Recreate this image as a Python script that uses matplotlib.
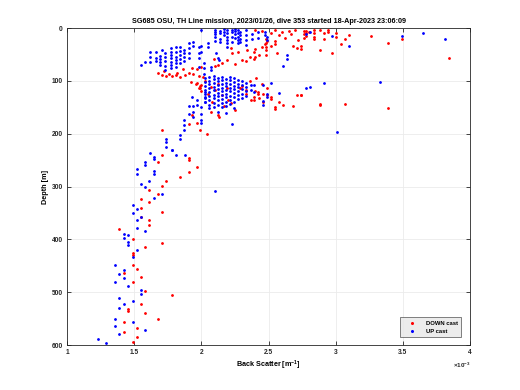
import numpy as np
import matplotlib
matplotlib.use("Agg")
import matplotlib.pyplot as plt
from matplotlib.ticker import FuncFormatter

title = "SG685 OSU, TH Line mission, 2023/01/26, dive 353 started 18-Apr-2023 23:06:09"

# DOWN cast, back scatter in units of 1e-3 m^-1, depth in m
down_bs = [
    # top
    2.78, 2.78, 2.78, 2.80, 2.84, 2.84, 2.84, 2.84, 2.88, 2.91, 2.91, 2.94, 2.94, 3.00, 3.00,
    3.04, 3.07, 3.10, 3.26, 3.39, 3.49, 3.84, 2.76, 2.76, 2.76, 2.70, 2.65, 2.60, 2.55, 2.52,
    2.58, 2.62, 2.67, 2.72, 2.45, 2.40,
    # 20-100 m
    2.12, 2.15, 2.19, 2.23, 2.27, 2.22, 2.34, 2.36, 2.39, 2.40, 2.45, 2.47, 2.49, 2.52, 2.40,
    2.39, 2.43, 2.48, 2.48, 2.48, 2.48, 2.48, 2.55, 2.55, 2.56, 2.68, 2.71, 2.74, 2.74, 2.88,
    2.97, 2.30, 2.33, 2.25, 2.09, 2.10,
    1.71, 1.74, 1.78, 1.82, 1.86, 1.88, 1.91, 1.93, 1.97, 1.98, 1.97, 1.98, 2.00, 2.03,
    1.72, 1.76, 1.81, 1.84, 1.68, 1.94, 2.00, 2.01, 1.99, 2.00,
    # 100-200 m
    2.07, 2.10, 2.15, 2.19, 2.20, 2.22, 2.12, 2.05, 2.08, 2.17, 2.25, 2.30, 2.33, 2.36, 2.41,
    2.45, 2.39, 2.39, 2.42, 2.42, 2.46, 2.46, 2.49, 2.49, 2.52, 2.52, 2.55, 2.55, 2.58, 2.61,
    2.68, 2.71, 2.74, 2.88, 3.07, 2.74, 2.88, 3.39, 2.29, 2.33, 2.37, 2.40, 2.43,
    1.92, 1.96, 1.99, 2.07, 2.12, 2.13, 1.97, 1.93, 1.99, 1.71, 1.91, 2.04,
    # deep
    1.71, 1.68, 1.91, 1.91, 1.97, 1.91, 1.74, 1.84, 1.71, 1.61, 1.68, 1.55, 1.55, 1.61, 1.71,
    1.55, 1.61, 1.61, 1.39, 1.49, 1.71, 1.58, 1.49, 1.49, 1.49, 1.52, 1.42, 1.55, 1.49, 1.58,
    1.78, 1.55, 1.45, 1.45, 1.58, 1.68, 1.42, 1.52, 1.42, 1.52, 1.49,
]
down_depth = [
    5, 10, 15, 8, 4, 10, 16, 21, 4, 10, 20, 4, 7, 10, 16,
    30, 20, 13, 15, 29, 20, 56, 6, 12, 18, 3, 5, 8, 4, 10,
    14, 18, 12, 22, 6, 3,
    70, 67, 60, 48, 45, 38, 41, 54, 46, 54, 36, 30, 25, 34, 40,
    58, 50, 21, 28, 35, 42, 50, 25, 31, 47, 34, 37, 34, 40, 42,
    47, 60, 62, 68, 59, 72,
    88, 91, 91, 85, 78, 88, 85, 75, 78, 91, 104, 113, 107, 100,
    82, 86, 89, 92, 85, 86, 73, 92, 114, 120,
    111, 118, 127, 113, 136, 142, 106, 125, 140, 148, 155, 110, 118, 100, 95,
    105, 130, 136, 121, 125, 124, 140, 114, 127, 130, 135, 149, 154, 140, 146,
    148, 127, 127, 144, 144, 127, 145, 151, 114, 125, 136, 120, 133,
    102, 105, 110, 158, 165, 168, 180, 164, 192, 192, 181, 201,
    240, 254, 245, 250, 263, 272, 290, 282, 298, 306, 314, 324, 340, 330, 348,
    358, 364, 372, 381, 399, 407, 415, 430, 426, 448, 456, 464, 471, 480, 497,
    505, 522, 531, 535, 540, 550, 557, 567, 576, 585, 594,
]

# UP cast
up_bs = [
    # top
    2.10, 2.10, 2.10, 2.10, 2.10, 2.14, 2.14, 2.14, 2.14, 2.17, 2.17, 2.17,
    2.19, 2.19, 2.19, 2.19, 2.19, 2.19, 2.23, 2.23, 2.23, 2.23, 2.25, 2.25, 2.25, 2.25,
    2.27, 2.27, 2.27, 2.27, 2.27, 2.29, 2.29, 2.29, 2.29, 2.33, 2.33, 2.33, 2.33,
    2.38, 2.38, 2.42, 2.42, 2.47, 2.47, 2.49, 2.49, 2.64, 2.64, 2.61, 2.00,
    2.78, 2.81, 2.97, 3.10, 3.49, 3.65, 3.81, 2.11, 2.12, 2.13,
    # wedge 25-110 m
    1.55, 1.58, 1.62, 1.66, 1.62, 1.62, 1.66, 1.66, 1.69, 1.69, 1.69, 1.69, 1.71,
    1.73, 1.73, 1.73, 1.73, 1.73, 1.77, 1.77, 1.77, 1.77, 1.77, 1.77, 1.77,
    1.81, 1.81, 1.81, 1.81, 1.81, 1.81, 1.84, 1.84, 1.84, 1.84, 1.84,
    1.87, 1.87, 1.87, 1.87, 1.91, 1.91, 1.91, 1.91, 1.94, 1.94, 1.98, 1.98, 1.98, 1.98,
    2.00, 2.00, 2.02, 2.02, 2.02, 2.05, 2.05, 2.07, 2.07,
    # middle cluster 90-160 m
    2.03, 2.03, 2.03, 2.03, 2.03, 2.03, 2.03,
    2.06, 2.06, 2.06, 2.06, 2.06, 2.06, 2.06, 2.06, 2.06,
    2.09, 2.09, 2.09, 2.09, 2.09, 2.09, 2.09, 2.09, 2.09,
    2.12, 2.12, 2.12, 2.12, 2.12, 2.12, 2.12, 2.12, 2.12,
    2.15, 2.15, 2.15, 2.15, 2.15, 2.15, 2.15, 2.15, 2.15,
    2.18, 2.18, 2.18, 2.18, 2.18, 2.18, 2.18, 2.18, 2.18,
    2.21, 2.21, 2.21, 2.21, 2.21, 2.21, 2.21, 2.21,
    2.24, 2.24, 2.24, 2.24, 2.24, 2.24, 2.24, 2.24,
    2.27, 2.27, 2.27, 2.27, 2.27, 2.27, 2.30, 2.30, 2.30, 2.30, 2.30,
    2.33, 2.33, 2.33, 2.33, 2.37, 2.37, 2.39, 2.39, 2.46, 2.46, 2.46, 2.49, 2.49,
    2.58, 2.52, 2.78, 2.81, 2.91, 3.33, 3.01,
    # transition 120-230 m
    1.74, 1.74, 1.74, 1.78, 1.84, 1.84, 1.87, 1.87, 1.87, 1.91, 1.94, 1.94, 1.94,
    1.97, 1.97, 2.00, 2.00, 2.00, 2.00, 1.91, 2.03, 2.03, 2.03, 2.23, 1.93,
    # deep
    1.78, 1.62, 1.81, 1.65, 1.88, 1.65, 1.52, 1.58, 1.58, 1.52, 1.65, 1.65, 1.61, 1.55,
    1.58, 1.71, 1.65, 1.49, 1.52, 1.49, 1.55, 1.52, 1.52, 1.58, 2.10, 1.42, 1.45, 1.42,
    1.45, 1.45, 1.52, 1.49, 1.36, 1.42, 1.39, 1.42, 1.36, 1.45, 1.55, 1.55, 1.49, 1.39,
    1.42, 1.39, 1.36, 1.36, 1.49, 1.58, 1.39, 1.23, 1.29,
]
up_depth = [
    3, 7, 12, 16, 24, 5, 10, 20, 26, 2, 8, 14,
    4, 10, 16, 23, 29, 35, 3, 7, 16, 26, 2, 6, 12, 18,
    4, 10, 16, 23, 29, 7, 13, 20, 26, 4, 13, 23, 32,
    12, 20, 8, 18, 7, 13, 16, 23, 50, 58, 72, 3,
    11, 7, 15, 33, 15, 10, 20, 48, 56, 60,
    70, 65, 46, 46, 54, 65, 62, 57, 53, 58, 64, 70, 42,
    48, 55, 63, 72, 79, 38, 45, 51, 57, 64, 70, 76,
    35, 45, 54, 60, 67, 73, 35, 43, 51, 59, 67,
    42, 48, 55, 63, 29, 38, 48, 57, 26, 34, 36, 48, 57, 73,
    34, 45, 67, 76, 86, 29, 35, 73, 79,
    95, 102, 110, 118, 125, 133, 140,
    92, 100, 106, 113, 121, 128, 136, 145, 152,
    90, 97, 104, 111, 118, 126, 133, 141, 150,
    94, 101, 108, 115, 122, 129, 137, 146, 158,
    92, 99, 106, 113, 120, 127, 134, 142, 150,
    96, 103, 110, 117, 124, 131, 139, 148, 160,
    92, 99, 106, 113, 120, 128, 136, 144,
    95, 102, 109, 116, 123, 131, 140, 152,
    98, 105, 112, 119, 127, 135, 100, 108, 116, 124, 132,
    104, 112, 120, 128, 108, 118, 108, 121, 108, 138, 146, 124, 130,
    122, 103, 114, 112, 103, 102, 196,
    209, 215, 225, 231, 203, 209, 174, 184, 192, 162, 148, 158, 168,
    136, 146, 149, 162, 174, 179, 148, 121, 130, 140, 181, 130,
    231, 237, 241, 244, 240, 248, 266, 254, 260, 277, 271, 277, 289, 295,
    301, 314, 321, 335, 343, 349, 357, 364, 378, 384, 308, 390, 391, 397,
    405, 411, 419, 434, 449, 458, 466, 473, 481, 488, 496, 503, 516, 510,
    523, 530, 550, 564, 556, 571, 579, 588, 596,
]

plt.rcParams["font.family"] = ["Liberation Sans", "DejaVu Sans"]
plt.rcParams["font.weight"] = "bold"
plt.rcParams["mathtext.fontset"] = "custom"
plt.rcParams["mathtext.rm"] = "Liberation Sans:bold"
plt.rcParams["mathtext.default"] = "rm"

fig = plt.figure(figsize=(5.2, 3.9), dpi=100)
ax = fig.add_axes([0.129, 0.115, 0.775, 0.813])

ax.plot(np.array(down_bs) * 1e-3, down_depth, ".", color="r", markersize=2.0, label="DOWN cast")
ax.plot(np.array(up_bs) * 1e-3, up_depth, ".", color="b", markersize=2.0, label="UP cast")

ax.set_xlim(1e-3, 4e-3)
ax.set_ylim(600, 0)
ax.set_xticks(np.arange(1e-3, 4.01e-3, 0.5e-3))
ax.set_yticks(np.arange(0, 601, 100))
ax.xaxis.set_major_formatter(FuncFormatter(lambda v, p: f"{v * 1e3:g}"))
ax.text(1.0, -0.05, "$\\times10^{-3}$", transform=ax.transAxes, fontsize=4.5,
        ha="right", va="top", color="#262626")

ax.grid(True, color="#ebebeb", linewidth=0.6)
ax.set_axisbelow(True)
ax.tick_params(direction="in", length=3, width=0.6, labelsize=4.8, colors="#262626",
               top=True, right=True, pad=3)
for s in ax.spines.values():
    s.set_color("#262626")
    s.set_linewidth(0.6)

ax.set_title(title, fontsize=5.2, fontweight="bold", pad=4)
ax.set_xlabel("Back Scatter [m$^{-1}$]", fontsize=5.2, fontweight="bold", labelpad=2)
ax.set_ylabel("Depth [m]", fontsize=5.2, fontweight="bold", labelpad=2)

leg = ax.legend(loc="lower right", fontsize=4.2, frameon=True, fancybox=False,
                markerscale=1.2, handlelength=3, borderpad=0.6, bbox_to_anchor=(0.985, 0.015))
leg.get_frame().set_facecolor("#e8e8e8")
leg.get_frame().set_edgecolor("#262626")
leg.get_frame().set_linewidth(0.5)

fig.savefig("out.png", dpi=100)
